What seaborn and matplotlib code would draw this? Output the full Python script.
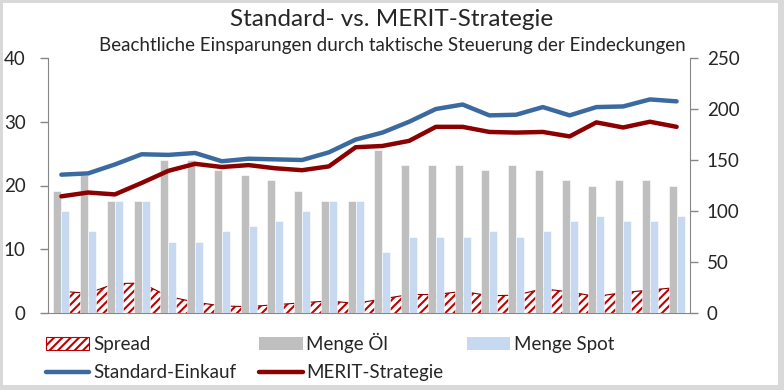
import numpy as np
import pandas as pd
import seaborn as sns
import matplotlib.pyplot as plt
from matplotlib.patches import Patch, Rectangle
from matplotlib.lines import Line2D

# Monatswerte (24 Monate)
months = list(range(1, 25))
menge_oel = [120, 135, 110, 110, 150, 150, 140, 135, 130, 120, 110, 110,
             160, 145, 145, 145, 140, 145, 140, 130, 125, 130, 130, 125]
menge_spot = [100, 80, 110, 110, 70, 70, 80, 85, 90, 100, 110, 110,
              60, 75, 75, 75, 80, 75, 80, 90, 95, 90, 90, 95]
standard = [21.7, 21.9, 23.3, 24.9, 24.8, 25.1, 23.8, 24.2, 24.1, 24.0, 25.2, 27.2,
            28.3, 30.0, 32.0, 32.7, 31.0, 31.1, 32.3, 31.0, 32.3, 32.4, 33.5, 33.2]
merit = [18.3, 18.9, 18.6, 20.4, 22.3, 23.4, 22.9, 23.2, 22.7, 22.4, 23.0, 26.0,
         26.2, 27.0, 29.2, 29.2, 28.4, 28.3, 28.4, 27.7, 29.9, 29.1, 30.0, 29.2]
spread = [3.4, 3.1, 4.6, 4.7, 2.6, 1.7, 1.1, 1.0, 1.3, 1.6, 1.9, 1.5,
          2.2, 2.9, 2.9, 3.4, 2.7, 2.8, 3.8, 3.3, 2.6, 3.2, 3.6, 4.0]

sns.set_style("white")
plt.rcParams['font.family'] = ['Lato', 'DejaVu Sans']
plt.rcParams['hatch.linewidth'] = 1.5

GREY_AX = '#868686'
C_OEL = '#bfbfbf'
C_SPOT = '#c6d9f1'
C_STD = '#3b6aa0'
C_MERIT = '#8b0000'
C_HATCH = '#c00000'

W, H = 784, 390
fig = plt.figure(figsize=(W / 100, H / 100), dpi=100, facecolor='#d9d9d9')
fig.patches.append(Rectangle((3 / W, 5 / H), 775 / W, 382 / H, transform=fig.transFigure,
                             facecolor='white', edgecolor='none', zorder=-10))

ax = fig.add_axes([48 / W, (H - 313) / H, (690 - 48) / W, (313 - 58) / H])
ax.set_facecolor('none')
ax2 = ax.twinx()
ax3 = ax.twinx()

bars = pd.DataFrame({
    'Monat': months * 2,
    'Menge': menge_oel + menge_spot,
    'Serie': ['Menge Öl'] * 24 + ['Menge Spot'] * 24,
})
sns.barplot(data=bars, x='Monat', y='Menge', hue='Serie', ax=ax2,
            palette={'Menge Öl': C_OEL, 'Menge Spot': C_SPOT},
            width=0.6, gap=0, saturation=1, legend=False,
            edgecolor='white', linewidth=0.4)

pos = np.arange(len(months))
ax.fill_between(pos, 0, spread, facecolor='white', edgecolor=C_HATCH,
                hatch='////', linewidth=0)
ax.plot(pos, spread, color=C_MERIT, lw=0.8)

lines = pd.DataFrame({'pos': pos, 'Standard-Einkauf': standard, 'MERIT-Strategie': merit})
sns.lineplot(data=lines, x='pos', y='Standard-Einkauf', ax=ax3, color=C_STD, lw=3.2)
sns.lineplot(data=lines, x='pos', y='MERIT-Strategie', ax=ax3, color=C_MERIT, lw=3.2)

for a in (ax, ax2, ax3):
    a.set_xlabel('')
    a.set_ylabel('')
    a.set_xlim(-0.5, 23.5)
    for s in a.spines.values():
        s.set_visible(False)

ax.set_ylim(0, 40)
ax2.set_ylim(0, 250)
ax3.set_ylim(0, 40)
ax.set_yticks([0, 10, 20, 30, 40])
ax2.set_yticks([0, 50, 100, 150, 200, 250])
ax.set_xticks([-0.5, 5.5, 11.5, 17.5, 23.5])
ax.set_xticklabels([])
ax3.set_yticks([])

for side in ('left', 'bottom'):
    ax.spines[side].set_visible(True)
    ax.spines[side].set_color(GREY_AX)
ax2.spines['right'].set_visible(True)
ax2.spines['right'].set_color(GREY_AX)

ax.tick_params(axis='y', length=6, width=1, color=GREY_AX, pad=10, labelsize=13.5)
ax.tick_params(axis='x', length=6, width=1, color=GREY_AX, direction='out')
ax2.tick_params(axis='y', length=6, width=1, color=GREY_AX, pad=6, labelsize=13.5)

fig.text(0.5, 1 - 19 / H, 'Standard- vs. MERIT-Strategie', ha='center', va='center', fontsize=17.5)
fig.text(0.5, 1 - 45 / H, 'Beachtliche Einsparungen durch taktische Steuerung der Eindeckungen',
         ha='center', va='center', fontsize=13.5)

handles = [
    Patch(facecolor='white', edgecolor=C_HATCH, hatch='////', linewidth=0.8),
    Line2D([], [], color=C_STD, lw=3.2),
    Patch(facecolor=C_OEL, edgecolor='none'),
    Line2D([], [], color=C_MERIT, lw=3.2),
    Patch(facecolor=C_SPOT, edgecolor='none'),
]
labels = ['Spread', 'Standard-Einkauf', 'Menge Öl', 'MERIT-Strategie', 'Menge Spot']
fig.legend(handles, labels, ncol=3, loc='center left', bbox_to_anchor=(46 / W, 1 - 357 / H),
           frameon=False, fontsize=13.5, handlelength=2.3, handleheight=0.7,
           handletextpad=0.2, columnspacing=1.25, labelspacing=0.6,
           borderpad=0, borderaxespad=0)

fig.savefig('out.png', dpi=100, facecolor=fig.get_facecolor())
